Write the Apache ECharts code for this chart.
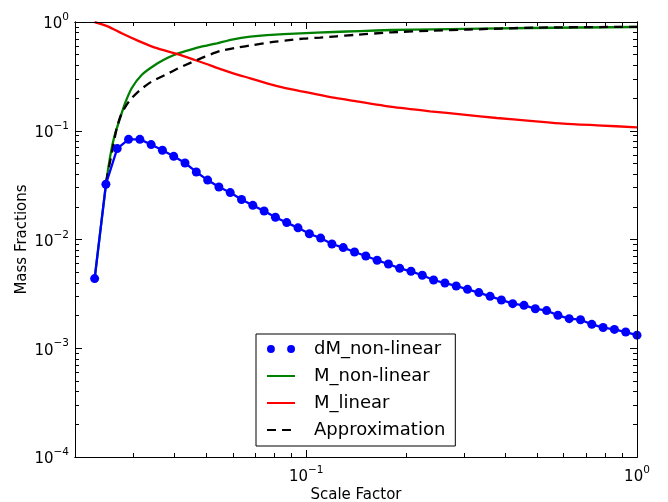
<!DOCTYPE html>
<html><head><meta charset="utf-8">
<script src="https://cdn.jsdelivr.net/npm/echarts@6/dist/echarts.min.js"></script>
<style>html,body{margin:0;padding:0;background:#fff}#c{width:668px;height:502px}</style>
</head><body><div id="c"></div>
<script>
// ---- data ----
const scaleFactor = [0.02293, 0.02480, 0.02683, 0.02903, 0.03141, 0.03398, 0.03675, 0.03976, 0.04301, 0.04653,
  0.05035, 0.05446, 0.05892, 0.06374, 0.06896, 0.07460, 0.08071, 0.08731, 0.09445, 0.10219,
  0.11055, 0.11960, 0.12939, 0.13996, 0.15142, 0.16381, 0.17721, 0.19172, 0.20740, 0.22439,
  0.24269, 0.26261, 0.28409, 0.30731, 0.33250, 0.35965, 0.38911, 0.42090, 0.45540, 0.49275,
  0.53298, 0.57663, 0.62373, 0.67484, 0.73011, 0.78977, 0.85449, 0.92437, 1.0];
const dMNonLinear = [0.00437, 0.0322, 0.0685, 0.0834, 0.0834, 0.0746, 0.0661, 0.0582, 0.0505, 0.0418,
  0.0352, 0.0304, 0.0270, 0.0233, 0.0206, 0.0183, 0.0160, 0.0143, 0.0128, 0.0113,
  0.0103, 0.00909, 0.00842, 0.00768, 0.00705, 0.00644, 0.00595, 0.00543, 0.00510, 0.00469,
  0.00424, 0.00398, 0.00374, 0.00348, 0.00325, 0.00300, 0.00278, 0.00257, 0.00248, 0.00231,
  0.00222, 0.00201, 0.00187, 0.00183, 0.00166, 0.00155, 0.00149, 0.00141, 0.00132];

const mNonLinearA = [0.02293, 0.02482, 0.02558, 0.02630, 0.02736, 0.02834, 0.02967, 0.03180, 0.03490, 0.03829,
  0.04104, 0.04610, 0.04996, 0.05372, 0.06018, 0.06773, 0.07607, 0.09592, 0.12093, 0.14558,
  0.18148, 0.24239, 0.47500, 1.0];
const mNonLinear = [0.00437, 0.0322, 0.0594, 0.0884, 0.1301, 0.1789, 0.2457, 0.3256, 0.4023, 0.4707,
  0.5155, 0.5731, 0.6067, 0.637, 0.693, 0.734, 0.759, 0.787, 0.809, 0.826,
  0.8441, 0.8568, 0.8807, 0.8995];

const mLinearA = [0.02293, 0.02522, 0.02767, 0.03108, 0.03490, 0.04104, 0.04610, 0.04996, 0.05372, 0.06018,
  0.06773, 0.07607, 0.08537, 0.09592, 0.10772, 0.12093, 0.13587, 0.18148, 0.23686, 0.29868,
  0.37681, 0.47500, 0.59884, 0.75546, 1.0];
const mLinear = [0.998, 0.907, 0.787, 0.670, 0.5815, 0.5047, 0.4472, 0.4108, 0.3785, 0.3375,
  0.3036, 0.2731, 0.2493, 0.232, 0.2163, 0.2017, 0.1905, 0.1654, 0.151, 0.1408,
  0.1310, 0.1235, 0.1163, 0.1122, 0.1076];

const approxA = [0.02482, 0.02588, 0.02673, 0.02767, 0.02934, 0.03145, 0.03408, 0.03741, 0.04104, 0.04503,
  0.04943, 0.05498, 0.06173, 0.06930, 0.07783, 0.08742, 0.09813, 0.11024, 0.12380, 0.13896,
  0.18148, 0.24239, 0.30713, 0.48840, 1.0];
const approx = [0.0338, 0.0638, 0.105, 0.1447, 0.1918, 0.2369, 0.2831, 0.3256, 0.3752, 0.4261,
  0.4806, 0.5413, 0.5815, 0.6146, 0.6507, 0.6787, 0.7036, 0.7187, 0.7387, 0.7594,
  0.804, 0.8337, 0.8513, 0.8882, 0.9034];

const seriesNames = ['dM_non-linear', 'M_non-linear', 'M_linear', 'Approximation'];
const xMajorTicks = [0.1, 1];
const xMinorTicks = [0.03, 0.04, 0.05, 0.06, 0.07, 0.08, 0.09, 0.2, 0.3, 0.4, 0.5, 0.6, 0.7, 0.8, 0.9];
const yMajorTicks = [0.0001, 0.001, 0.01, 0.1, 1];
const yMinorTicks = [0.0002, 0.0003, 0.0004, 0.0005, 0.0006, 0.0007, 0.0008, 0.0009,
  0.002, 0.003, 0.004, 0.005, 0.006, 0.007, 0.008, 0.009,
  0.02, 0.03, 0.04, 0.05, 0.06, 0.07, 0.08, 0.09,
  0.2, 0.3, 0.4, 0.5, 0.6, 0.7, 0.8, 0.9];
const xTitle = 'Scale Factor';
const yTitle = 'Mass Fractions';

// ---- chart ----
const FONT = 'DejaVu Sans';
const zip = (xs, ys) => xs.map((x, i) => [x, ys[i]]);
const supFmt = v => {
  const e = Math.round(Math.log10(v));
  return '{b|10}{s|' + (e < 0 ? '\u2212' + (-e) : String(e)) + '}';
};
const rich = {
  b: {fontSize: 15, fontFamily: FONT, color: '#000', lineHeight: 20, verticalAlign: 'bottom'},
  s: {fontSize: 10.5, fontFamily: FONT, color: '#000', lineHeight: 10, verticalAlign: 'top'}
};

function mkAxis(kind, pos, ticks, len, withLabel, withName) {
  const isX = kind === 'x';
  const ax = {
    type: 'log', logBase: 10, position: pos,
    min: isX ? 0.02 : 0.0001, max: 1,
    splitLine: {show: false},
    axisLine: {show: true, lineStyle: {color: '#000', width: 1}},
    axisTick: {show: true, inside: true, length: len, customValues: ticks, lineStyle: {color: '#000', width: 1}},
    axisLabel: withLabel ? {show: true, customValues: ticks, formatter: supFmt, rich: rich, margin: isX ? 8 : 6} : {show: false},
    z: 5
  };
  if (withName) {
    ax.name = isX ? xTitle : yTitle;
    ax.nameLocation = 'middle';
    ax.nameGap = isX ? 31 : 45;
    ax.nameMoveOverlap = false;
    ax.nameTextStyle = {fontSize: 15, fontFamily: FONT, color: '#000'};
  }
  return ax;
}

const hidden = {opacity: 0};
const chart = echarts.init(document.getElementById('c'), null, {renderer: 'canvas'});
chart.setOption({
  animation: false,
  backgroundColor: '#fff',
  grid: {left: 75, right: 31, top: 22, bottom: 45, containLabel: false, outerBoundsMode: 'none'},
  xAxis: [
    mkAxis('x', 'bottom', xMajorTicks, 7, true, true),
    mkAxis('x', 'bottom', xMinorTicks, 4, false, false),
    mkAxis('x', 'top', xMajorTicks, 7, false, false),
    mkAxis('x', 'top', xMinorTicks, 4, false, false)
  ],
  yAxis: [
    mkAxis('y', 'left', yMajorTicks, 7, true, true),
    mkAxis('y', 'left', yMinorTicks, 4, false, false),
    mkAxis('y', 'right', yMajorTicks, 7, false, false),
    mkAxis('y', 'right', yMinorTicks, 4, false, false)
  ],
  legend: {
    data: [
      {name: seriesNames[0], icon: 'path://M0,4.5a4.5,4.5 0 1,0 9,0a4.5,4.5 0 1,0 -9,0zM23,4.5a4.5,4.5 0 1,0 9,0a4.5,4.5 0 1,0 -9,0z'},
      {name: seriesNames[1], itemStyle: hidden},
      {name: seriesNames[2], itemStyle: hidden},
      {name: seriesNames[3], itemStyle: hidden}
    ],
    orient: 'vertical', left: 256, top: 334,
    padding: [5, 10, 6, 10],
    itemWidth: 28, itemHeight: 10, itemGap: 7,
    borderColor: '#000', borderWidth: 1, borderRadius: 0, backgroundColor: '#fff',
    selectedMode: false,
    textStyle: {fontSize: 18, color: '#000', fontFamily: FONT, lineHeight: 20, padding: [0, 0, 0, 14]}
  },
  series: [
    {name: seriesNames[1], type: 'line', data: zip(mNonLinearA, mNonLinear), symbol: 'none', smooth: 0.2,
      lineStyle: {color: '#008000', width: 2.3}, itemStyle: {color: '#008000'}, z: 2},
    {name: seriesNames[2], type: 'line', data: zip(mLinearA, mLinear), symbol: 'none', smooth: 0.2,
      lineStyle: {color: '#ff0000', width: 2.3}, itemStyle: {color: '#ff0000'}, z: 2},
    {name: seriesNames[3], type: 'line', data: zip(approxA, approx), symbol: 'none', smooth: 0.2,
      lineStyle: {color: '#000000', width: 2.3, type: [9, 6]}, itemStyle: {color: '#000000'}, z: 3},
    {name: 'dM line', type: 'line', data: zip(scaleFactor, dMNonLinear), symbol: 'none',
      lineStyle: {color: '#0000ff', width: 2.3}, itemStyle: {color: '#0000ff'}, z: 3},
    {name: seriesNames[0], type: 'scatter', data: zip(scaleFactor, dMNonLinear), symbol: 'circle', symbolSize: 9,
      itemStyle: {color: '#0000ff', opacity: 1}, z: 4}
  ]
});
</script>
</body></html>
